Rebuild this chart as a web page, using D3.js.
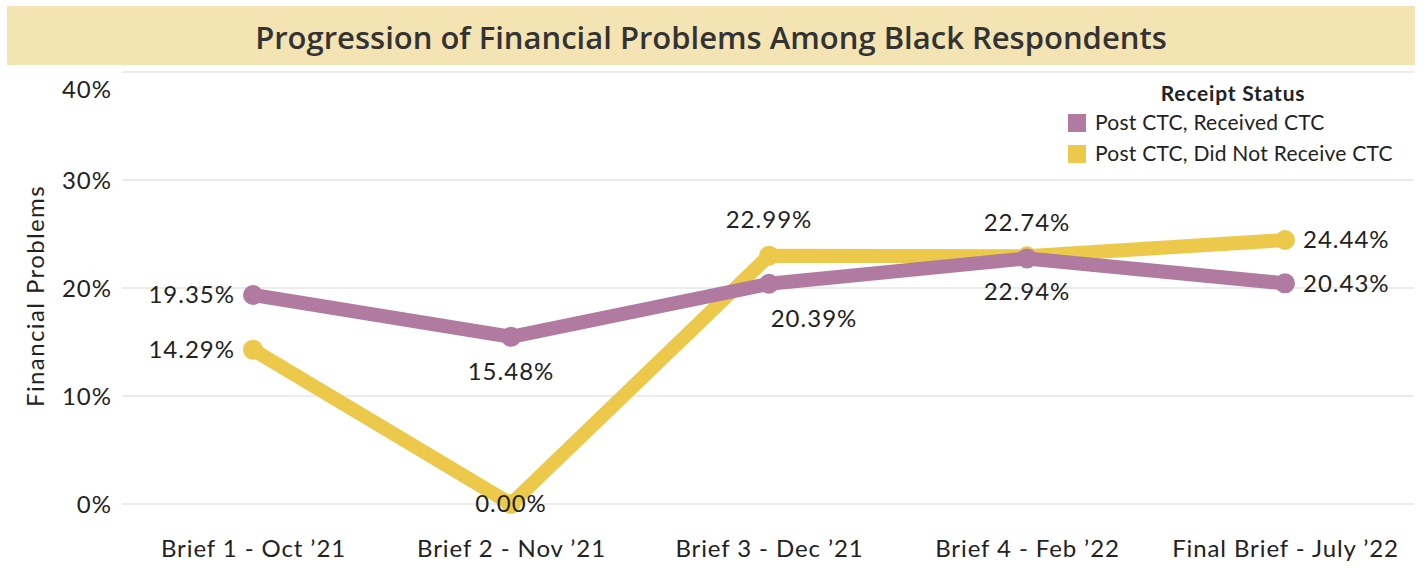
<!DOCTYPE html>
<html lang="en">
<head>
  <meta charset="UTF-8">
  <title>Progression of Financial Problems Among Black Respondents</title>
  <script src="https://d3js.org/d3.v7.min.js"></script>
  <style>
    body { margin: 0; background: #fff; }
    svg text { font-family: Lato, "Open Sans", sans-serif; fill: #222; }
  </style>
</head>
<body>
  <div id="chart"></div>
  <script>
    // data
    var briefs = ["Brief 1 - Oct \u201921", "Brief 2 - Nov \u201921", "Brief 3 - Dec \u201921", "Brief 4 - Feb \u201922", "Final Brief - July \u201922"];
    var receivedCTC = [19.35, 15.48, 20.39, 22.74, 20.43];
    var notReceivedCTC = [14.29, 0.00, 22.99, 22.94, 24.44];
    var seriesNames = ["Post CTC, Received CTC", "Post CTC, Did Not Receive CTC"];
    var yTicks = [0, 10, 20, 30, 40];

    // where each label sits relative to its point (mimics the Tableau placement)
    var receivedLabelPos = ["left", "below", "below-right", "above", "right"];
    var notReceivedLabelPos = ["left", "center", "above", "below", "right"];

    var colors = ["#b07aa1", "#ecc94b"];

    var width = 1424, height = 568;
    var plot = { left: 122, right: 1414, top: 72, bottom: 504 };

    var svg = d3.select("#chart").append("svg")
      .attr("width", width)
      .attr("height", height);

    // title band
    svg.append("rect")
      .attr("x", 7).attr("y", 6)
      .attr("width", 1408).attr("height", 59)
      .attr("fill", "#f4e4b3");
    svg.append("text")
      .attr("x", 711).attr("y", 49)
      .attr("text-anchor", "middle")
      .style("font-family", "'Open Sans', sans-serif")
      .style("font-weight", 600)
      .style("font-size", "31px")
      .style("fill", "#333")
      .text("Progression of Financial Problems Among Black Respondents");

    var x = d3.scalePoint()
      .domain(briefs)
      .range([plot.left + 2, plot.right])
      .padding(0.5);

    var y = d3.scaleLinear()
      .domain([0, 40])
      .range([plot.bottom, plot.top]);

    // gridlines
    svg.append("g")
      .selectAll("line")
      .data(yTicks)
      .enter()
      .append("line")
      .attr("x1", plot.left)
      .attr("x2", plot.right)
      .attr("y1", function (d) { return y(d); })
      .attr("y2", function (d) { return y(d); })
      .attr("stroke", "#d9d9d9")
      .attr("stroke-width", 1.2);

    // y axis labels (top one nudged down like the original)
    var yAxis = svg.append("g")
      .attr("transform", "translate(" + (plot.left - 10) + ",0)")
      .call(d3.axisLeft(y).tickValues(yTicks).tickSize(0).tickPadding(0)
        .tickFormat(function (d) { return d + "%"; }));
    yAxis.select(".domain").remove();
    yAxis.selectAll("text")
      .style("font-size", "24px")
      .style("letter-spacing", "1px")
      .style("fill", "#222")
      .attr("dy", function (d) { return d === 40 ? "1.05em" : "0.35em"; });

    svg.append("text")
      .attr("transform", "translate(44," + 296 + ") rotate(-90)")
      .attr("text-anchor", "middle")
      .style("font-size", "24px")
      .style("letter-spacing", "1.4px")
      .text("Financial Problems");

    // x axis labels
    var xAxis = svg.append("g")
      .attr("transform", "translate(0," + (plot.bottom + 36) + ")")
      .call(d3.axisBottom(x).tickSize(0).tickPadding(0));
    xAxis.select(".domain").remove();
    xAxis.selectAll("text")
      .style("font-size", "24px")
      .style("letter-spacing", "0.9px")
      .style("fill", "#222")
      .attr("dy", "0.7em");

    var series = [
      { name: seriesNames[1], values: notReceivedCTC, pos: notReceivedLabelPos, color: colors[1] },
      { name: seriesNames[0], values: receivedCTC, pos: receivedLabelPos, color: colors[0] }
    ];

    var line = d3.line()
      .x(function (d, i) { return x(briefs[i]); })
      .y(function (d) { return y(d); });

    series.forEach(function (s) {
      var g = svg.append("g");
      g.append("path")
        .datum(s.values)
        .attr("d", line)
        .attr("fill", "none")
        .attr("stroke", s.color)
        .attr("stroke-width", 14)
        .attr("stroke-linejoin", "round");
      g.selectAll("circle")
        .data(s.values)
        .enter()
        .append("circle")
        .attr("cx", function (d, i) { return x(briefs[i]); })
        .attr("cy", function (d) { return y(d); })
        .attr("r", 10)
        .attr("fill", s.color);
    });

    // data labels
    series.forEach(function (s) {
      svg.append("g")
        .selectAll("text")
        .data(s.values)
        .enter()
        .append("text")
        .style("font-size", "24px")
        .style("letter-spacing", "1px")
        .attr("x", function (d, i) {
          var px = x(briefs[i]), p = s.pos[i];
          if (p === "left") return px - 18;
          if (p === "right") return px + 18;
          if (p === "below-right") return px + 45;
          return px;
        })
        .attr("y", function (d, i) {
          var py = y(d), p = s.pos[i];
          if (p === "above") return py - 36;
          if (p === "below") return py + 35;
          if (p === "below-right") return py + 35;
          return py;
        })
        .attr("dy", "0.35em")
        .attr("text-anchor", function (d, i) {
          var p = s.pos[i];
          if (p === "left") return "end";
          if (p === "right") return "start";
          return "middle";
        })
        .text(function (d) { return d.toFixed(2) + "%"; });
    });

    // legend
    var legend = svg.append("g").attr("transform", "translate(1068,94)");
    legend.append("text")
      .attr("x", 165).attr("y", 0)
      .attr("dy", "0.35em")
      .attr("text-anchor", "middle")
      .style("font-size", "21px")
      .style("letter-spacing", "0.8px")
      .style("font-weight", 700)
      .text("Receipt Status");
    seriesNames.forEach(function (name, i) {
      legend.append("rect")
        .attr("x", 0).attr("y", 20 + i * 31)
        .attr("width", 18).attr("height", 18)
        .attr("fill", colors[i]);
      legend.append("text")
        .attr("x", 27).attr("y", 29 + i * 31)
        .attr("dy", "0.35em")
        .style("font-size", "21px")
        .style("letter-spacing", "0.25px")
        .text(name);
    });
  </script>
</body>
</html>
